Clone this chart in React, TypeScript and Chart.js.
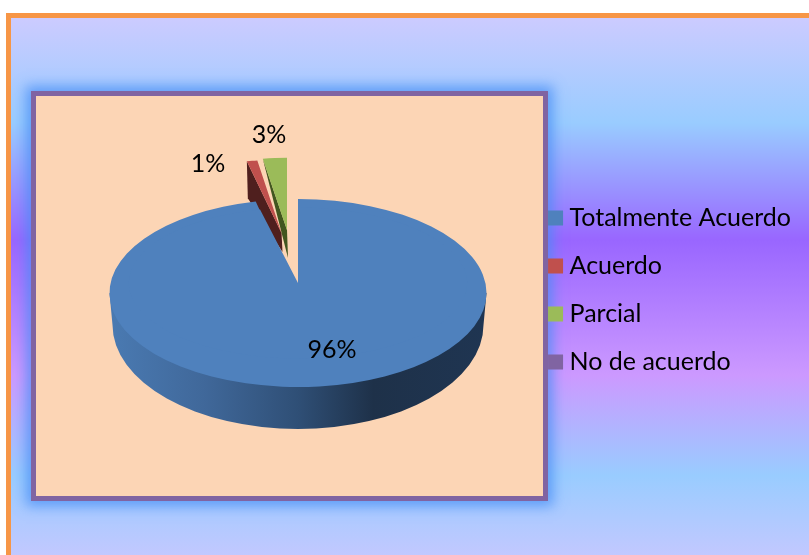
import React, { useEffect, useRef } from "react";
import { Chart, registerables } from "chart.js";

Chart.register(...registerables);

const categories = ["Totalmente Acuerdo", "Acuerdo", "Parcial", "No de acuerdo"];
const seriesValues = [96.4, 1.1, 2.5, 0];
const sliceColors = ["#4F81BD", "#C0504D", "#9BBB59", "#8064A2"];
const FONT = "Lato, Carlito, sans-serif";

const tilt3d = {
  id: "tilt3d",
  beforeDatasetDraw() {
    return false;
  },
  afterDatasetsDraw(chart: any) {
    const ctx = chart.ctx;
    const arcs = chart.getDatasetMeta(0).data;
    const main = arcs[0];
    const R = main.outerRadius;
    const ax = 298;
    const ay = 293;

    const placed = (arc: any, px: number, py: number, sx: number, sy: number) => {
      ctx.save();
      ctx.translate(px, py);
      ctx.scale(sx, sy);
      ctx.translate(-arc.x, -arc.y);
      arc.draw(ctx);
      ctx.restore();
    };

    const drawSmall = (arc: any, px: number, py: number, sx: number, sy: number, wall: string, dOuter: number, dApex: number) => {
      const ox = px + sx * R * Math.cos(arc.startAngle);
      const oy = py + sy * R * Math.sin(arc.startAngle);
      ctx.save();
      ctx.fillStyle = wall;
      ctx.beginPath();
      ctx.moveTo(ox, oy);
      ctx.lineTo(ox + 1, oy + dOuter);
      ctx.lineTo(px + 1, py + dApex);
      ctx.lineTo(px, py);
      ctx.closePath();
      ctx.fill();
      ctx.restore();
      placed(arc, px, py, sx, sy);
    };
    drawSmall(arcs[1], 281.5, 233, 0.82, 0.39, "#4F1F1E", 37, 19);
    drawSmall(arcs[2], 287, 230, 0.82, 0.383, "#41561F", 4, 28);

    // side wall of the large slice
    const rx = R;
    const grad = ctx.createLinearGradient(ax - rx, 0, ax + rx, 0);
    grad.addColorStop(0, "#4A7AB2");
    grad.addColorStop(0.25, "#40689A");
    grad.addColorStop(0.5, "#2F4F76");
    grad.addColorStop(0.7, "#1E3149");
    grad.addColorStop(1, "#1F3552");
    ctx.save();
    ctx.fillStyle = grad;
    ctx.beginPath();
    ctx.moveTo(ax - rx, ay);
    ctx.lineTo(ax - rx + 3, ay + 32);
    ctx.ellipse(ax, ay + 32, rx - 3, 104, 0, Math.PI, 0, true);
    ctx.lineTo(ax + rx, ay);
    ctx.closePath();
    ctx.fill();
    ctx.restore();

    // top face, plus a smaller copy that carries the notch's tip up to where it sits in perspective
    placed(main, ax, ay, 1, 94 / R);
    placed(main, ax, 283, 0.898, 0.4);

    ctx.save();
    ctx.fillStyle = "#000";
    ctx.font = `25px ${FONT}`;
    ctx.textAlign = "center";
    ctx.textBaseline = "middle";
    ctx.fillText(`${Math.round(seriesValues[0])}%`, 332, 350);
    ctx.fillText(`${Math.round(seriesValues[1])}%`, 208, 164);
    ctx.fillText(`${Math.round(seriesValues[2])}%`, 269, 135);
    ctx.restore();
  },
};

export default function App() {
  const ref = useRef<HTMLCanvasElement>(null);
  useEffect(() => {
    document.body.style.margin = "0";
    const chart = new Chart(ref.current as HTMLCanvasElement, {
      type: "pie",
      data: {
        labels: categories,
        datasets: [{ data: seriesValues, backgroundColor: sliceColors, borderWidth: 0 }],
      },
      options: {
        responsive: false,
        animation: false,
        layout: { padding: { left: 46, right: 8, top: 101.5, bottom: 76.5 } },
        plugins: {
          tooltip: { enabled: false },
          legend: {
            position: "right",
            labels: {
              color: "#000",
              font: { family: FONT, size: 25 },
              boxWidth: 3,
              boxHeight: 3,
              padding: 23,
              generateLabels: () =>
                categories.map((text, i) => ({
                  text,
                  fillStyle: sliceColors[i],
                  strokeStyle: sliceColors[i],
                  lineWidth: 12,
                  lineJoin: "miter",
                  hidden: false,
                  index: i,
                })),
            },
          },
        },
      },
      plugins: [tilt3d],
    } as any);
    return () => chart.destroy();
  }, []);
  return (
    <div style={{ position: "relative", width: 809, height: 555, overflow: "hidden", background: "#fff" }}>
      <div
        style={{
          position: "absolute",
          left: 6,
          top: 13,
          width: 830,
          height: 600,
          boxSizing: "border-box",
          border: "5px solid #F79646",
          background:
            "linear-gradient(180deg,#CCCBFF 0px,#99CCFF 105px,#9966FF 222px,#CC99FF 357px,#99CCFF 457px,#C4C8FF 542px)",
        }}
      />
      <div
        style={{
          position: "absolute",
          left: 31,
          top: 91,
          width: 517,
          height: 410,
          boxSizing: "border-box",
          border: "5px solid #8064A2",
          background: "#FCD5B5",
          boxShadow: "0 0 12px 5px rgba(70,140,245,0.75)",
        }}
      />
      <canvas ref={ref} width={809} height={555} style={{ position: "absolute", left: 0, top: 0, display: "block" }} />
    </div>
  );
}
